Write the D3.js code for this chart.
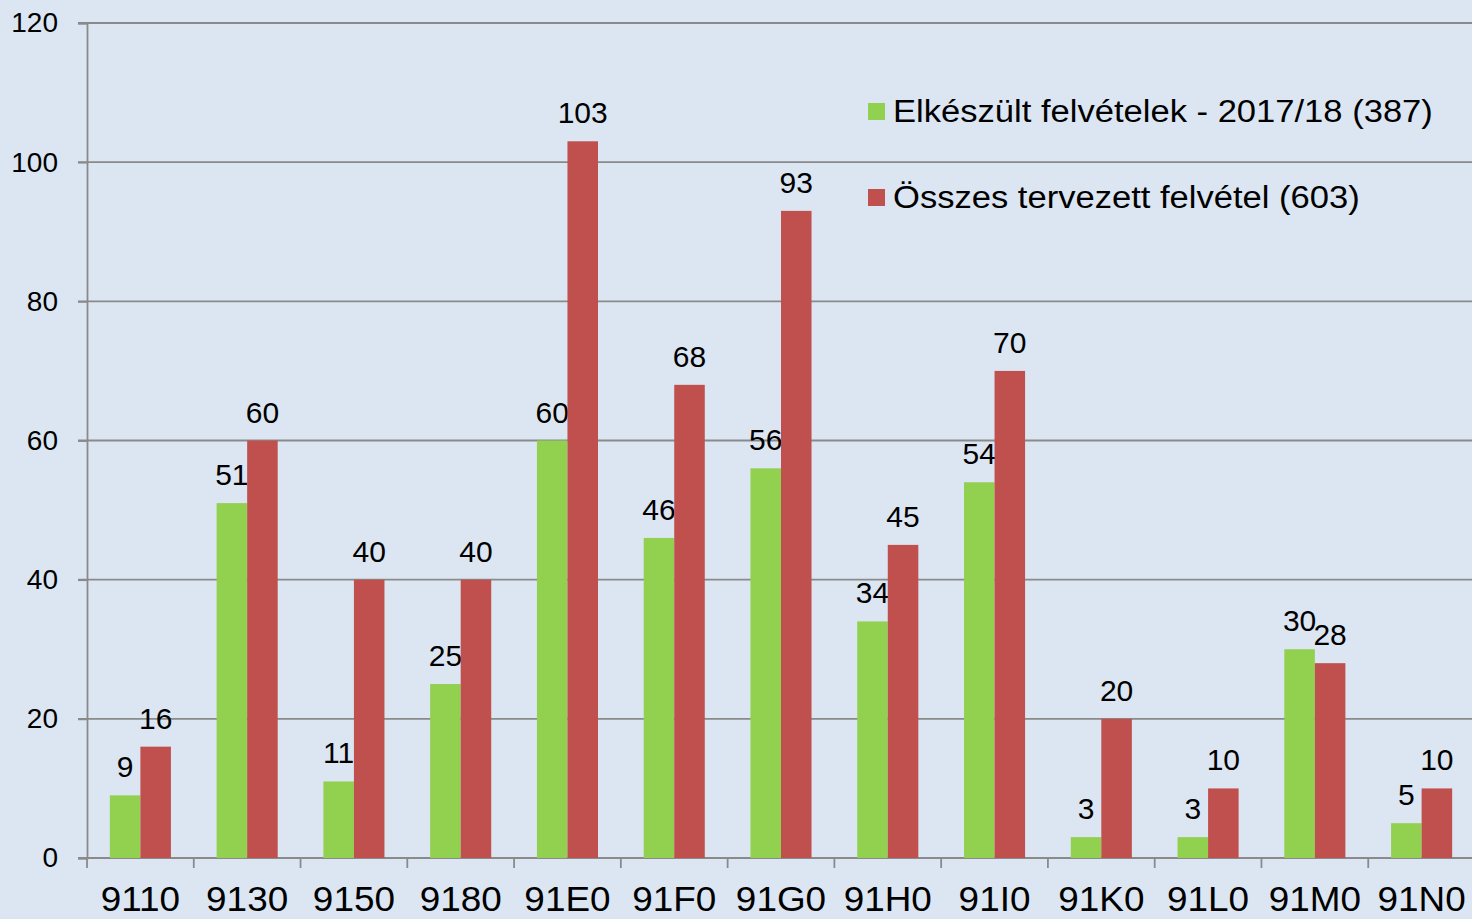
<!DOCTYPE html>
<html>
<head>
<meta charset="utf-8">
<script src="https://cdn.jsdelivr.net/npm/d3@7"></script>
<style>
  html, body { margin: 0; padding: 0; background: #dce6f2; }
  svg { display: block; font-family: "Liberation Sans", Arial, sans-serif; }
</style>
</head>
<body>
<div id="chart"></div>
<script>
// Data
var categories = ["9110", "9130", "9150", "9180", "91E0", "91F0", "91G0", "91H0", "91I0", "91K0", "91L0", "91M0", "91N0"];
var done = [9, 51, 11, 25, 60, 46, 56, 34, 54, 3, 3, 30, 5];
var planned = [16, 60, 40, 40, 103, 68, 93, 45, 70, 20, 10, 28, 10];
var seriesNames = ["Elkészült felvételek - 2017/18 (387)", "Összes tervezett felvétel (603)"];
var seriesColors = ["#92d050", "#c0504d"];
var yTicks = [0, 20, 40, 60, 80, 100, 120];

// Set Up Space
var svgWidth = 1472;
var svgHeight = 919;
var margin = { top: 23, right: -3, bottom: 61, left: 87 };
var width = svgWidth - margin.left - margin.right;
var height = svgHeight - margin.top - margin.bottom;

var svg = d3.select("#chart")
  .append("svg")
  .attr("width", svgWidth)
  .attr("height", svgHeight);

svg.append("rect")
  .attr("width", svgWidth)
  .attr("height", svgHeight)
  .attr("fill", "#dce6f2");

var chartGroup = svg.append("g")
  .attr("transform", `translate(${margin.left}, ${margin.top})`);

// Scales
var xScale = d3.scaleBand()
  .domain(categories)
  .range([0, width])
  .paddingInner(0)
  .paddingOuter(0);

var yScale = d3.scaleLinear()
  .domain([0, 120])
  .range([height, 0]);

var barW = xScale.bandwidth() * 0.286;

// Gridlines
chartGroup.append("g")
  .selectAll("line")
  .data(yTicks.filter(d => d > 0))
  .enter()
  .append("line")
    .attr("x1", -9)
    .attr("x2", width)
    .attr("y1", d => yScale(d))
    .attr("y2", d => yScale(d))
    .attr("stroke", "#8a8a8a")
    .attr("stroke-width", 1.8);

// Y axis
var leftAxis = d3.axisLeft(yScale)
  .tickValues(yTicks)
  .tickSize(9)
  .tickPadding(20);

var yAxisG = chartGroup.append("g").call(leftAxis);
yAxisG.select(".domain").attr("stroke", "#8a8a8a").attr("stroke-width", 1.8);
yAxisG.selectAll(".tick line").attr("stroke", "#8a8a8a").attr("stroke-width", 1.8);
yAxisG.selectAll(".tick text")
  .attr("fill", "#000")
  .style("font-size", "28px")
  .attr("font-family", null);

// X axis line + ticks at band boundaries
chartGroup.append("line")
  .attr("x1", -9)
  .attr("x2", width)
  .attr("y1", height)
  .attr("y2", height)
  .attr("stroke", "#8a8a8a")
  .attr("stroke-width", 1.8);

chartGroup.append("g")
  .selectAll("line")
  .data(d3.range(categories.length + 1))
  .enter()
  .append("line")
    .attr("x1", i => i * xScale.step())
    .attr("x2", i => i * xScale.step())
    .attr("y1", height)
    .attr("y2", height + 10)
    .attr("stroke", "#8a8a8a")
    .attr("stroke-width", 1.8);

chartGroup.append("g")
  .selectAll("text")
  .data(categories)
  .enter()
  .append("text")
    .attr("transform", d => `translate(${xScale(d) + xScale.bandwidth() / 2}, ${height + 53}) scale(1.07, 1)`)
    .attr("text-anchor", "middle")
    .style("font-size", "34.5px")
    .text(d => d);

// Bars
var series = [done, planned];
series.forEach(function(values, s) {
  var g = chartGroup.append("g");
  var offset = xScale.bandwidth() / 2 - barW + s * barW;

  g.selectAll("rect")
    .data(values)
    .enter()
    .append("rect")
      .attr("x", (d, i) => xScale(categories[i]) + offset)
      .attr("y", d => yScale(d))
      .attr("width", barW)
      .attr("height", d => height - yScale(d))
      .attr("fill", seriesColors[s]);

  g.selectAll("text")
    .data(values)
    .enter()
    .append("text")
      .attr("x", (d, i) => xScale(categories[i]) + offset + barW / 2)
      .attr("y", d => yScale(d) - 18)
      .attr("text-anchor", "middle")
      .style("font-size", "30px")
      .text(d => d);
});

// Legend
var legend = svg.append("g")
  .attr("transform", "translate(868, 103)");

seriesNames.forEach(function(name, i) {
  var row = legend.append("g")
    .attr("transform", `translate(0, ${i * 86})`);
  row.append("rect")
    .attr("width", 17)
    .attr("height", 17)
    .attr("fill", seriesColors[i]);
  row.append("text")
    .attr("transform", "translate(25, 19) scale(1.115, 1)")
    .style("font-size", "31px")
    .text(name);
});
</script>
</body>
</html>
